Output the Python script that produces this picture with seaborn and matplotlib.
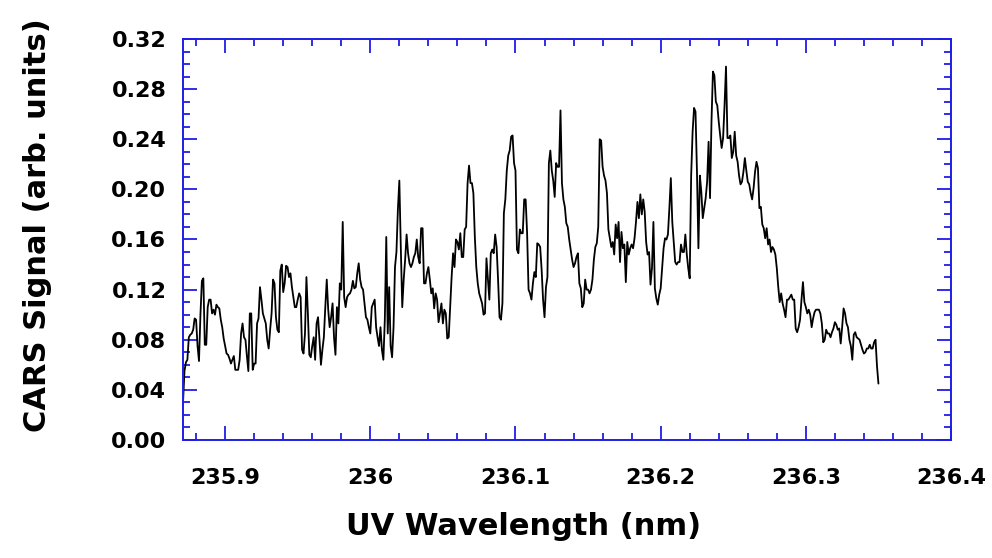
import matplotlib
matplotlib.use("Agg")
import matplotlib.pyplot as plt
import seaborn as sns
import pandas as pd
from matplotlib.ticker import MultipleLocator

# ---- data ----
wavelength = [
    235.871, 235.872, 235.873, 235.874, 235.875, 235.876, 235.877, 235.878, 235.879, 235.880,
    235.881, 235.882, 235.883, 235.884, 235.885, 235.886, 235.887, 235.888, 235.889, 235.890,
    235.891, 235.892, 235.893, 235.894, 235.895, 235.896, 235.897, 235.898, 235.899, 235.900,
    235.901, 235.902, 235.903, 235.904, 235.905, 235.906, 235.907, 235.908, 235.909, 235.910,
    235.911, 235.912, 235.913, 235.914, 235.915, 235.916, 235.917, 235.918, 235.919, 235.920,
    235.921, 235.922, 235.923, 235.924, 235.925, 235.926, 235.927, 235.928, 235.929, 235.930,
    235.931, 235.932, 235.933, 235.934, 235.935, 235.936, 235.937, 235.938, 235.939, 235.940,
    235.941, 235.942, 235.943, 235.944, 235.945, 235.946, 235.947, 235.948, 235.949, 235.950,
    235.951, 235.952, 235.953, 235.954, 235.955, 235.956, 235.957, 235.958, 235.959, 235.960,
    235.961, 235.962, 235.963, 235.964, 235.965, 235.966, 235.967, 235.968, 235.969, 235.970,
    235.971, 235.972, 235.973, 235.974, 235.975, 235.976, 235.977, 235.978, 235.979, 235.980,
    235.981, 235.982, 235.983, 235.984, 235.985, 235.986, 235.987, 235.988, 235.989, 235.990,
    235.991, 235.992, 235.993, 235.994, 235.995, 235.996, 235.997, 235.998, 235.999, 236.000,
    236.001, 236.002, 236.003, 236.004, 236.005, 236.006, 236.007, 236.008, 236.009, 236.010,
    236.011, 236.012, 236.013, 236.014, 236.015, 236.016, 236.017, 236.018, 236.019, 236.020,
    236.021, 236.022, 236.023, 236.024, 236.025, 236.026, 236.027, 236.028, 236.029, 236.030,
    236.031, 236.032, 236.033, 236.034, 236.035, 236.036, 236.037, 236.038, 236.039, 236.040,
    236.041, 236.042, 236.043, 236.044, 236.045, 236.046, 236.047, 236.048, 236.049, 236.050,
    236.051, 236.052, 236.053, 236.054, 236.055, 236.056, 236.057, 236.058, 236.059, 236.060,
    236.061, 236.062, 236.063, 236.064, 236.065, 236.066, 236.067, 236.068, 236.069, 236.070,
    236.071, 236.072, 236.073, 236.074, 236.075, 236.076, 236.077, 236.078, 236.079, 236.080,
    236.081, 236.082, 236.083, 236.084, 236.085, 236.086, 236.087, 236.088, 236.089, 236.090,
    236.091, 236.092, 236.093, 236.094, 236.095, 236.096, 236.097, 236.098, 236.099, 236.100,
    236.101, 236.102, 236.103, 236.104, 236.105, 236.106, 236.107, 236.108, 236.109, 236.110,
    236.111, 236.112, 236.113, 236.114, 236.115, 236.116, 236.117, 236.118, 236.119, 236.120,
    236.121, 236.122, 236.123, 236.124, 236.125, 236.126, 236.127, 236.128, 236.129, 236.130,
    236.131, 236.132, 236.133, 236.134, 236.135, 236.136, 236.137, 236.138, 236.139, 236.140,
    236.141, 236.142, 236.143, 236.144, 236.145, 236.146, 236.147, 236.148, 236.149, 236.150,
    236.151, 236.152, 236.153, 236.154, 236.155, 236.156, 236.157, 236.158, 236.159, 236.160,
    236.161, 236.162, 236.163, 236.164, 236.165, 236.166, 236.167, 236.168, 236.169, 236.170,
    236.171, 236.172, 236.173, 236.174, 236.175, 236.176, 236.177, 236.178, 236.179, 236.180,
    236.181, 236.182, 236.183, 236.184, 236.185, 236.186, 236.187, 236.188, 236.189, 236.190,
    236.191, 236.192, 236.193, 236.194, 236.195, 236.196, 236.197, 236.198, 236.199, 236.200,
    236.201, 236.202, 236.203, 236.204, 236.205, 236.206, 236.207, 236.208, 236.209, 236.210,
    236.211, 236.212, 236.213, 236.214, 236.215, 236.216, 236.217, 236.218, 236.219, 236.220,
    236.221, 236.222, 236.223, 236.224, 236.225, 236.226, 236.227, 236.228, 236.229, 236.230,
    236.231, 236.232, 236.233, 236.234, 236.235, 236.236, 236.237, 236.238, 236.239, 236.240,
    236.241, 236.242, 236.243, 236.244, 236.245, 236.246, 236.247, 236.248, 236.249, 236.250,
    236.251, 236.252, 236.253, 236.254, 236.255, 236.256, 236.257, 236.258, 236.259, 236.260,
    236.261, 236.262, 236.263, 236.264, 236.265, 236.266, 236.267, 236.268, 236.269, 236.270,
    236.271, 236.272, 236.273, 236.274, 236.275, 236.276, 236.277, 236.278, 236.279, 236.280,
    236.281, 236.282, 236.283, 236.284, 236.285, 236.286, 236.287, 236.288, 236.289, 236.290,
    236.291, 236.292, 236.293, 236.294, 236.295, 236.296, 236.297, 236.298, 236.299, 236.300,
    236.301, 236.302, 236.303, 236.304, 236.305, 236.306, 236.307, 236.308, 236.309, 236.310,
    236.311, 236.312, 236.313, 236.314, 236.315, 236.316, 236.317, 236.318, 236.319, 236.320,
    236.321, 236.322, 236.323, 236.324, 236.325, 236.326, 236.327, 236.328, 236.329, 236.330,
    236.331, 236.332, 236.333, 236.334, 236.335, 236.336, 236.337, 236.338, 236.339, 236.340,
    236.341, 236.342, 236.343, 236.344, 236.345, 236.346, 236.347, 236.348, 236.349, 236.350,
]

signal = [
    0.030, 0.055, 0.062, 0.064, 0.082, 0.084, 0.085, 0.088, 0.097, 0.096,
    0.075, 0.063, 0.100, 0.127, 0.129, 0.076, 0.076, 0.106, 0.112, 0.112,
    0.101, 0.104, 0.100, 0.108, 0.106, 0.105, 0.096, 0.090, 0.081, 0.075,
    0.069, 0.068, 0.065, 0.061, 0.064, 0.067, 0.056, 0.056, 0.056, 0.064,
    0.085, 0.093, 0.082, 0.080, 0.067, 0.055, 0.101, 0.101, 0.056, 0.061,
    0.061, 0.093, 0.097, 0.122, 0.112, 0.101, 0.097, 0.093, 0.080, 0.073,
    0.088, 0.101, 0.128, 0.125, 0.098, 0.088, 0.086, 0.135, 0.140, 0.118,
    0.125, 0.139, 0.138, 0.130, 0.133, 0.122, 0.114, 0.106, 0.106, 0.112,
    0.117, 0.114, 0.072, 0.069, 0.085, 0.130, 0.101, 0.068, 0.066, 0.075,
    0.082, 0.064, 0.093, 0.098, 0.080, 0.060, 0.072, 0.082, 0.106, 0.128,
    0.104, 0.090, 0.098, 0.109, 0.082, 0.068, 0.106, 0.093, 0.125, 0.120,
    0.174, 0.114, 0.106, 0.114, 0.116, 0.117, 0.120, 0.127, 0.121, 0.122,
    0.133, 0.141, 0.128, 0.122, 0.120, 0.109, 0.098, 0.096, 0.090, 0.085,
    0.106, 0.109, 0.112, 0.090, 0.082, 0.075, 0.090, 0.072, 0.064, 0.096,
    0.162, 0.085, 0.122, 0.075, 0.066, 0.090, 0.138, 0.150, 0.184, 0.207,
    0.154, 0.106, 0.128, 0.144, 0.164, 0.149, 0.141, 0.138, 0.141, 0.146,
    0.149, 0.160, 0.146, 0.141, 0.169, 0.169, 0.125, 0.125, 0.133, 0.138,
    0.128, 0.117, 0.121, 0.105, 0.117, 0.112, 0.094, 0.101, 0.109, 0.093,
    0.104, 0.101, 0.081, 0.082, 0.106, 0.130, 0.149, 0.138, 0.160, 0.158,
    0.152, 0.165, 0.146, 0.146, 0.168, 0.170, 0.205, 0.219, 0.205, 0.205,
    0.197, 0.162, 0.138, 0.125, 0.117, 0.113, 0.109, 0.100, 0.101, 0.145,
    0.128, 0.112, 0.149, 0.152, 0.149, 0.164, 0.154, 0.128, 0.098, 0.096,
    0.109, 0.181, 0.192, 0.215, 0.227, 0.231, 0.242, 0.243, 0.221, 0.215,
    0.152, 0.149, 0.168, 0.165, 0.165, 0.192, 0.192, 0.165, 0.120, 0.117,
    0.112, 0.125, 0.134, 0.130, 0.157, 0.156, 0.154, 0.136, 0.112, 0.098,
    0.122, 0.130, 0.221, 0.231, 0.215, 0.207, 0.194, 0.221, 0.218, 0.218,
    0.263, 0.205, 0.192, 0.186, 0.173, 0.170, 0.160, 0.152, 0.144, 0.138,
    0.141, 0.146, 0.149, 0.125, 0.121, 0.106, 0.109, 0.128, 0.120, 0.120,
    0.117, 0.120, 0.128, 0.144, 0.154, 0.157, 0.170, 0.240, 0.239, 0.218,
    0.211, 0.207, 0.197, 0.168, 0.161, 0.154, 0.158, 0.148, 0.172, 0.161,
    0.174, 0.142, 0.166, 0.153, 0.156, 0.126, 0.158, 0.148, 0.153, 0.156,
    0.153, 0.161, 0.174, 0.190, 0.177, 0.196, 0.180, 0.192, 0.182, 0.158,
    0.148, 0.150, 0.124, 0.137, 0.174, 0.121, 0.113, 0.108, 0.116, 0.121,
    0.137, 0.153, 0.161, 0.160, 0.164, 0.185, 0.209, 0.174, 0.158, 0.142,
    0.140, 0.142, 0.142, 0.156, 0.150, 0.150, 0.164, 0.148, 0.137, 0.129,
    0.211, 0.246, 0.265, 0.262, 0.214, 0.153, 0.211, 0.198, 0.177, 0.185,
    0.193, 0.206, 0.238, 0.193, 0.254, 0.294, 0.291, 0.270, 0.267, 0.254,
    0.243, 0.233, 0.241, 0.267, 0.298, 0.241, 0.241, 0.243, 0.225, 0.230,
    0.246, 0.227, 0.222, 0.211, 0.204, 0.206, 0.214, 0.225, 0.215, 0.206,
    0.204, 0.197, 0.192, 0.201, 0.214, 0.222, 0.217, 0.185, 0.186, 0.172,
    0.169, 0.161, 0.169, 0.156, 0.160, 0.150, 0.154, 0.152, 0.148, 0.137,
    0.122, 0.110, 0.117, 0.109, 0.104, 0.098, 0.112, 0.112, 0.114, 0.116,
    0.112, 0.112, 0.089, 0.086, 0.090, 0.096, 0.112, 0.126, 0.110, 0.106,
    0.101, 0.104, 0.100, 0.090, 0.097, 0.102, 0.104, 0.104, 0.104, 0.101,
    0.093, 0.078, 0.080, 0.088, 0.085, 0.085, 0.082, 0.086, 0.089, 0.094,
    0.092, 0.088, 0.089, 0.077, 0.090, 0.105, 0.101, 0.093, 0.090, 0.080,
    0.075, 0.064, 0.084, 0.086, 0.082, 0.081, 0.080, 0.076, 0.072, 0.069,
    0.070, 0.073, 0.073, 0.076, 0.073, 0.073, 0.078, 0.080, 0.059, 0.045,
]

x_ticks = [235.9, 236.0, 236.1, 236.2, 236.3, 236.4]
x_tick_labels = ["235.9", "236", "236.1", "236.2", "236.3", "236.4"]
y_ticks = [0.00, 0.04, 0.08, 0.12, 0.16, 0.20, 0.24, 0.28, 0.32]
y_tick_labels = ["0.00", "0.04", "0.08", "0.12", "0.16", "0.20", "0.24", "0.28", "0.32"]
x_title = "UV Wavelength (nm)"
y_title = "CARS Signal (arb. units)"

# ---- style ----
sns.set_style("white")
plt.rcParams["font.family"] = ["DejaVu Sans"]
plt.rcParams["font.weight"] = "bold"
plt.rcParams["text.color"] = "black"
plt.rcParams["axes.labelcolor"] = "black"

BLUE = "#1e1ee6"

fig = plt.figure(figsize=(9.92, 5.58), dpi=100)
ax = fig.add_axes([0.1845, 0.2115, 0.7742, 0.7186])

df = pd.DataFrame({"wl": wavelength, "sig": signal})
sns.lineplot(data=df, x="wl", y="sig", ax=ax, color="black", lw=1.3,
             estimator=None, sort=False)

ax.set_xlim(235.871, 236.4)
ax.set_ylim(0.0, 0.32)
ax.set_xticks(x_ticks)
ax.set_xticklabels(x_tick_labels)
ax.set_yticks(y_ticks)
ax.set_yticklabels(y_tick_labels)
ax.xaxis.set_minor_locator(MultipleLocator(0.02))
ax.yaxis.set_minor_locator(MultipleLocator(0.01))

for s in ax.spines.values():
    s.set_color(BLUE)
    s.set_linewidth(1.4)
    s.set_visible(True)

ax.tick_params(which="both", direction="in", top=True, right=True,
               bottom=True, left=True, color=BLUE, width=1.3)
ax.tick_params(which="major", length=10)
ax.tick_params(which="minor", length=5)
ax.tick_params(axis="x", which="major", labelsize=16, pad=20, labelcolor="black")
ax.tick_params(axis="y", which="major", labelsize=16, pad=12, labelcolor="black")

ax.set_xlabel(x_title, fontsize=22, fontweight="bold", va="center", color="black")
ax.set_ylabel(y_title, fontsize=22, fontweight="bold", va="center", color="black")
ax.xaxis.set_label_coords(0.443, -0.217)
ax.yaxis.set_label_coords(-0.190, 0.536)
ax.grid(False)

fig.savefig("out.png", dpi=100, facecolor="white")
